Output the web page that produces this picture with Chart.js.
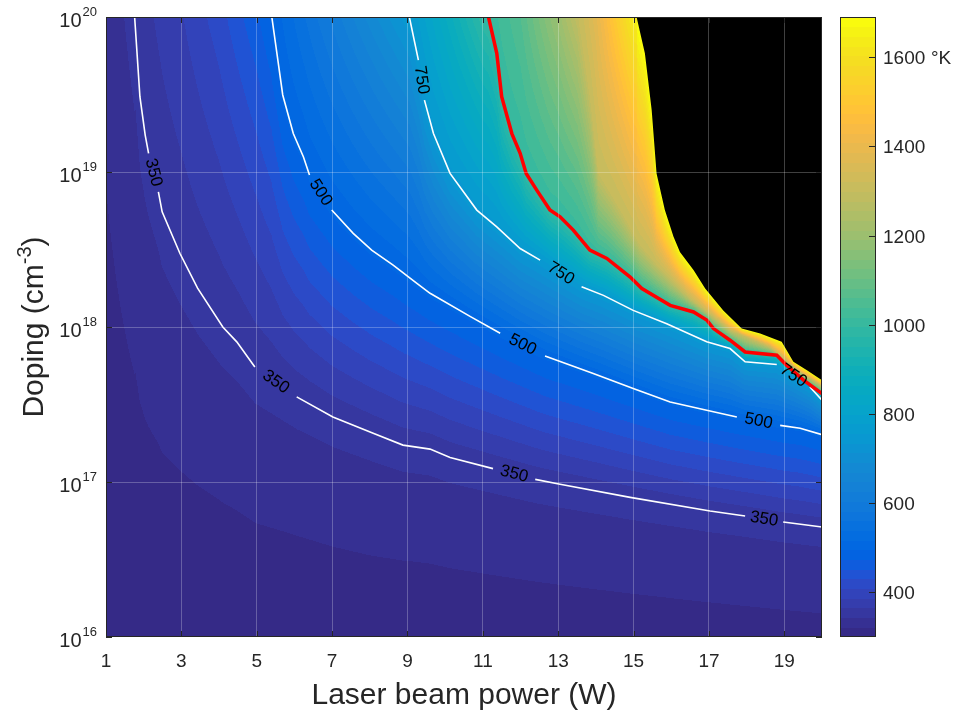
<!DOCTYPE html>
<html>
<head>
<meta charset="utf-8">
<script src="https://cdn.jsdelivr.net/npm/chart.js@4.4.1/dist/chart.umd.min.js"></script>
<style>
  html, body { margin: 0; padding: 0; background: #fff; }
</style>
</head>
<body>
<canvas id="heat" width="953" height="710"></canvas>
<script>
// axis ticks
var powerTicks = [1, 3, 5, 7, 9, 11, 13, 15, 17, 19];
var dopingTicks = [1e16, 1e17, 1e18, 1e19, 1e20];
var tempTicks = [400, 600, 800, 1000, 1200, 1400, 1600];
var tempMin = 300, tempMax = 1690;

// isotherms: [power W, doping cm-3], null = gap where the label sits
var iso350 = [
    [1.76, 1e20], [1.90, 3.06e19], [2.04, 1.73e19], [2.13, 1.32e19], null,
    [2.39, 7.45e18], [2.49, 5.53e18], [2.96, 2.99e18], [3.43, 1.78e18], [4.10, 1.00e18], [4.47, 8.02e17], [4.95, 5.52e17], null,
    [6.06, 3.54e17], [7.02, 2.63e17], [8.09, 2.06e17], [8.88, 1.73e17], [9.60, 1.63e17], [10.13, 1.44e17], [11.27, 1.22e17], null,
    [12.39, 1.04e17], [13.05, 9.66e16], [14.91, 7.96e16], [17.03, 6.50e16], [17.96, 6.03e16], null,
    [18.97, 5.52e16], [20, 5.13e16]
];
var iso500 = [
    [5.40, 1e20], [5.69, 3.14e19], [5.97, 1.77e19], [6.24, 1.25e19], [6.40, 9.55e18], null,
    [6.99, 5.68e18], [7.56, 4.02e18], [8.05, 3.13e18], [8.62, 2.51e18], [9.25, 1.91e18], [9.60, 1.65e18], [10.66, 1.17e18], [11.46, 9.12e17], null,
    [12.65, 6.49e17], [13.93, 5.01e17], [14.99, 4.01e17], [15.97, 3.28e17], [16.94, 2.90e17], [17.74, 2.63e17], null,
    [18.89, 2.32e17], [19.42, 2.22e17], [20, 2.02e17]
];
var iso750 = [
    [9.05, 1e20], [9.29, 5.27e19], null,
    [9.45, 2.91e19], [9.69, 1.77e19], [10.13, 9.79e18], [10.84, 5.68e18], [11.37, 4.43e18], [11.99, 3.21e18], [12.52, 2.70e18], null,
    [13.62, 1.82e18], [14.20, 1.60e18], [14.99, 1.28e18], [15.88, 1.05e18], [16.94, 8.02e17], [17.56, 7.26e17], [17.96, 5.96e17], [18.80, 5.73e17], null,
    [19.68, 4.10e17], [20, 3.37e17]
];
// red line
var iso1000 = [
    [11.15, 1e20], [11.37, 5.83e19], [11.50, 3.06e19], [11.77, 1.77e19], [11.99, 1.32e19], [12.15, 9.79e18],
    [12.43, 7.64e18], [12.78, 5.68e18], [13.05, 5.14e18], [13.40, 4.22e18], [13.84, 3.13e18], [14.29, 2.77e18],
    [14.91, 2.10e18], [15.22, 1.77e18], [15.97, 1.38e18], [16.59, 1.25e18], [16.94, 1.11e18], [17.12, 9.77e17],
    [17.56, 8.22e17], [17.96, 6.90e17], [18.80, 6.58e17], [19.06, 5.66e17], [19.51, 4.54e17], [20, 3.72e17]
];
// not drawn, only shapes the colours between the red line and the melt edge
var iso1300 = [
    [13.53, 1e20], [13.85, 2.91e19], [14.06, 9.84e18], [14.69, 5.43e18], [15.17, 3.37e18], [15.62, 2.51e18],
    [16.45, 1.56e18], [17.56, 9.53e17], [18.62, 7.41e17], [19.42, 5.11e17], [20, 4.15e17]
];
// edge of the black (molten) area
var meltEdge = [
    [15.08, 1e20], [15.30, 5.83e19], [15.48, 2.51e19], [15.61, 9.79e18], [15.83, 5.68e18], [16.06, 3.82e18],
    [16.23, 3.05e18], [16.59, 2.33e18], [16.90, 1.77e18], [17.38, 1.28e18], [17.87, 9.77e17], [18.36, 9.08e17],
    [18.93, 8.02e17], [19.24, 5.96e17], [19.60, 5.26e17], [20, 4.54e17]
];

// temperature along the bottom (1e16) and top (1e20) edges
var powerGrid = [1, 2, 3, 4, 5, 6, 7, 8, 9, 10, 11, 12, 13, 14, 15, 16, 17, 18, 19, 20];
var bottomTemp = [300, 300, 300, 300, 301, 301, 302, 303, 303, 304, 305, 306, 307, 308, 309, 310, 311, 312, 313, 314];
var topTemp = [330, 358, 385, 420, 470, 541, 610, 678, 747, 863, 989, 1060, 1200, 1380, 1640, 1700, 1700, 1700, 1700, 1700];

var levels = [[350, iso350], [500, iso500], [750, iso750], [1000, iso1000], [1300, iso1300], [1690, meltEdge]];

// parula, 64 steps
var parula = [
    [0.2081,0.1663,0.5292],[0.2116,0.1898,0.5777],[0.2123,0.2138,0.6270],[0.2081,0.2386,0.6771],
    [0.1959,0.2645,0.7279],[0.1707,0.2919,0.7792],[0.1253,0.3242,0.8303],[0.0591,0.3598,0.8683],
    [0.0117,0.3875,0.8820],[0.0060,0.4086,0.8828],[0.0165,0.4266,0.8786],[0.0329,0.4430,0.8720],
    [0.0498,0.4586,0.8641],[0.0629,0.4737,0.8554],[0.0723,0.4887,0.8467],[0.0779,0.5040,0.8384],
    [0.0793,0.5200,0.8312],[0.0749,0.5375,0.8263],[0.0641,0.5570,0.8240],[0.0488,0.5772,0.8228],
    [0.0343,0.5966,0.8199],[0.0265,0.6137,0.8135],[0.0239,0.6287,0.8038],[0.0231,0.6418,0.7913],
    [0.0228,0.6535,0.7768],[0.0267,0.6642,0.7607],[0.0384,0.6743,0.7436],[0.0590,0.6838,0.7254],
    [0.0843,0.6928,0.7062],[0.1133,0.7015,0.6859],[0.1453,0.7098,0.6646],[0.1801,0.7177,0.6424],
    [0.2178,0.7250,0.6193],[0.2586,0.7317,0.5954],[0.3022,0.7376,0.5712],[0.3482,0.7424,0.5473],
    [0.3953,0.7459,0.5244],[0.4420,0.7481,0.5033],[0.4871,0.7491,0.4840],[0.5300,0.7491,0.4661],
    [0.5709,0.7485,0.4494],[0.6099,0.7473,0.4337],[0.6473,0.7456,0.4188],[0.6834,0.7435,0.4044],
    [0.7184,0.7411,0.3905],[0.7525,0.7384,0.3768],[0.7858,0.7356,0.3633],[0.8185,0.7327,0.3498],
    [0.8507,0.7299,0.3360],[0.8824,0.7274,0.3217],[0.9139,0.7258,0.3063],[0.9450,0.7261,0.2886],
    [0.9739,0.7314,0.2666],[0.9938,0.7455,0.2403],[0.9990,0.7653,0.2164],[0.9955,0.7861,0.1967],
    [0.9880,0.8066,0.1794],[0.9789,0.8271,0.1633],[0.9697,0.8481,0.1475],[0.9626,0.8705,0.1309],
    [0.9589,0.8949,0.1132],[0.9598,0.9218,0.0948],[0.9661,0.9514,0.0755],[0.9763,0.9831,0.0538]
];

var fam = '"Liberation Sans", Arial, Helvetica, sans-serif';
var ink = '#262626';

function colourIndex(t) {
    var i = Math.floor((t - tempMin) / (tempMax - tempMin) * parula.length);
    return Math.max(0, Math.min(parula.length - 1, i));
}

// log10(doping) where an isotherm crosses the column at power p
function crossAt(line, p) {
    var pts = line.filter(Boolean);
    if (p < pts[0][0]) return null;
    for (var k = 1; k < pts.length; k++) {
        if (p <= pts[k][0]) {
            var f = (p - pts[k - 1][0]) / (pts[k][0] - pts[k - 1][0]);
            var a = Math.log10(pts[k - 1][1]), b = Math.log10(pts[k][1]);
            return a + f * (b - a);
        }
    }
    return Math.log10(pts[pts.length - 1][1]);
}

function edgeTemp(list, p) {
    for (var k = 1; k < powerGrid.length; k++) {
        if (p <= powerGrid[k]) {
            var f = (p - powerGrid[k - 1]) / (powerGrid[k] - powerGrid[k - 1]);
            return list[k - 1] + f * (list[k] - list[k - 1]);
        }
    }
    return list[list.length - 1];
}

function columnKnots(p) {
    var knots = [[16, edgeTemp(bottomTemp, p)]];
    levels.forEach(function (lv) {
        var e = crossAt(lv[1], p);
        if (e !== null) knots.push([e, lv[0]]);
    });
    knots.push([20, edgeTemp(topTemp, p)]);
    knots.sort(function (a, b) { return a[0] - b[0]; });
    return knots;
}

function tempAt(knots, e) {
    if (e <= knots[0][0]) return knots[0][1];
    for (var k = 1; k < knots.length; k++) {
        if (e <= knots[k][0]) {
            var d = knots[k][0] - knots[k - 1][0];
            var f = d > 0 ? (e - knots[k - 1][0]) / d : 1;
            return knots[k - 1][1] + f * (knots[k][1] - knots[k - 1][1]);
        }
    }
    return knots[knots.length - 1][1];
}

var heatField = {
    id: 'heatField',
    beforeDatasetsDraw: function (chart) {
        var a = chart.chartArea, xs = chart.scales.x, ys = chart.scales.y;
        var w = Math.round(a.right - a.left), h = Math.round(a.bottom - a.top);
        var off = document.createElement('canvas');
        off.width = w; off.height = h;
        var octx = off.getContext('2d');
        var img = octx.createImageData(w, h);
        var rowLog = [];
        for (var j = 0; j < h; j++) rowLog.push(Math.log10(ys.getValueForPixel(a.top + j + 0.5)));
        for (var i = 0; i < w; i++) {
            var knots = columnKnots(xs.getValueForPixel(a.left + i + 0.5));
            for (j = 0; j < h; j++) {
                var c = parula[colourIndex(tempAt(knots, rowLog[j]))];
                var o = (j * w + i) * 4;
                img.data[o] = c[0] * 255;
                img.data[o + 1] = c[1] * 255;
                img.data[o + 2] = c[2] * 255;
                img.data[o + 3] = 255;
            }
        }
        octx.putImageData(img, 0, 0);
        chart.ctx.drawImage(off, a.left, a.top);
    }
};

var decorations = {
    id: 'decorations',
    afterDraw: function (chart) {
        var ctx = chart.ctx, a = chart.chartArea;
        var xs = chart.scales.x, ys = chart.scales.y, ts = chart.scales.temp;
        ctx.save();

        // contour labels sit in the gaps of the lines
        ctx.fillStyle = '#000';
        ctx.font = '17px ' + fam;
        ctx.textAlign = 'center';
        ctx.textBaseline = 'middle';
        [[350, iso350], [500, iso500], [750, iso750]].forEach(function (lv) {
            var line = lv[1];
            for (var k = 1; k < line.length - 1; k++) {
                if (line[k] !== null) continue;
                var x0 = xs.getPixelForValue(line[k - 1][0]), y0 = ys.getPixelForValue(line[k - 1][1]);
                var x1 = xs.getPixelForValue(line[k + 1][0]), y1 = ys.getPixelForValue(line[k + 1][1]);
                var ang = Math.atan2(y1 - y0, x1 - x0);
                if (ang > Math.PI / 2) ang -= Math.PI;
                if (ang < -Math.PI / 2) ang += Math.PI;
                ctx.save();
                ctx.translate((x0 + x1) / 2, (y0 + y1) / 2);
                ctx.rotate(ang);
                ctx.fillText(String(lv[0]), 0, 0);
                ctx.restore();
            }
        });

        // axes box and inward ticks
        ctx.strokeStyle = ink;
        ctx.lineWidth = 1;
        ctx.strokeRect(a.left + 0.5, a.top + 0.5, a.right - a.left - 1, a.bottom - a.top - 1);
        ctx.beginPath();
        powerTicks.forEach(function (v) {
            var px = Math.round(xs.getPixelForValue(v)) + 0.5;
            ctx.moveTo(px, a.bottom); ctx.lineTo(px, a.bottom - 6);
            ctx.moveTo(px, a.top); ctx.lineTo(px, a.top + 6);
        });
        dopingTicks.forEach(function (v) {
            var py = Math.round(ys.getPixelForValue(v)) + 0.5;
            ctx.moveTo(a.left, py); ctx.lineTo(a.left + 6, py);
            ctx.moveTo(a.right, py); ctx.lineTo(a.right - 6, py);
        });
        ctx.stroke();

        // tick labels
        ctx.fillStyle = ink;
        ctx.textBaseline = 'alphabetic';
        ctx.textAlign = 'center';
        ctx.font = '19px ' + fam;
        powerTicks.forEach(function (v) {
            ctx.fillText(String(v), xs.getPixelForValue(v), a.bottom + 30);
        });
        ctx.textAlign = 'right';
        dopingTicks.forEach(function (v) {
            var py = ys.getPixelForValue(v);
            var ex = String(Math.round(Math.log10(v)));
            ctx.font = '13px ' + fam;
            var sw = ctx.measureText(ex).width;
            ctx.fillText(ex, a.left - 9, py - 1);
            ctx.font = '20px ' + fam;
            ctx.fillText('10', a.left - 10 - sw, py + 10);
        });

        // axis titles
        ctx.textAlign = 'center';
        ctx.font = '30px ' + fam;
        ctx.fillText('Laser beam power (W)', (a.left + a.right) / 2, 704);
        ctx.save();
        ctx.translate(43, (a.top + a.bottom) / 2);
        ctx.rotate(-Math.PI / 2);
        ctx.textAlign = 'left';
        var main = 'Doping (cm', sup = '-3', close = ')';
        ctx.font = '30px ' + fam;
        var wMain = ctx.measureText(main).width, wClose = ctx.measureText(close).width;
        ctx.font = '20px ' + fam;
        var wSup = ctx.measureText(sup).width;
        var x0 = -(wMain + wSup + wClose) / 2;
        ctx.font = '30px ' + fam;
        ctx.fillText(main, x0, 0);
        ctx.fillText(close, x0 + wMain + wSup, 0);
        ctx.font = '20px ' + fam;
        ctx.fillText(sup, x0 + wMain, -12);
        ctx.restore();

        // colour bar on the temp scale
        var bl = 840, br = 876;
        for (var k = 0; k < parula.length; k++) {
            var t0 = tempMin + k * (tempMax - tempMin) / parula.length;
            var t1 = tempMin + (k + 1) * (tempMax - tempMin) / parula.length;
            var c = parula[k];
            ctx.fillStyle = 'rgb(' + Math.round(c[0] * 255) + ',' + Math.round(c[1] * 255) + ',' + Math.round(c[2] * 255) + ')';
            var yTop = ts.getPixelForValue(t1), yBot = ts.getPixelForValue(t0);
            ctx.fillRect(bl, Math.floor(yTop), br - bl, Math.ceil(yBot) - Math.floor(yTop));
        }
        ctx.strokeStyle = ink;
        ctx.strokeRect(bl + 0.5, ts.getPixelForValue(tempMax) + 0.5, br - bl - 1, ts.getPixelForValue(tempMin) - ts.getPixelForValue(tempMax) - 1);
        ctx.beginPath();
        tempTicks.forEach(function (v) {
            var py = Math.round(ts.getPixelForValue(v)) + 0.5;
            ctx.moveTo(br, py); ctx.lineTo(br - 7, py);
        });
        ctx.stroke();
        ctx.fillStyle = ink;
        ctx.textAlign = 'left';
        ctx.font = '19px ' + fam;
        tempTicks.forEach(function (v) {
            ctx.fillText(String(v), 883, ts.getPixelForValue(v) + 7);
        });
        ctx.fillText('\u00b0K', 931, ts.getPixelForValue(1600) + 7);

        ctx.restore();
    }
};

function toPoints(line) {
    return line.map(function (p) { return p ? { x: p[0], y: p[1] } : { x: null, y: null }; });
}

function contourSet(line, colour, width) {
    return {
        data: toPoints(line),
        showLine: true,
        borderColor: colour,
        borderWidth: width,
        pointRadius: 0,
        fill: false,
        spanGaps: false
    };
}

var gridStyle = { color: 'rgba(255,255,255,0.25)', lineWidth: 1, drawTicks: false, z: 1 };

new Chart(document.getElementById('heat').getContext('2d'), {
    type: 'scatter',
    data: {
        datasets: [
            contourSet(iso1000, '#ff0000', 3.5),
            contourSet(iso750, '#ffffff', 1.6),
            contourSet(iso500, '#ffffff', 1.6),
            contourSet(iso350, '#ffffff', 1.6),
            {
                data: toPoints(meltEdge),
                showLine: true,
                borderWidth: 0,
                borderColor: 'rgba(0,0,0,0)',
                backgroundColor: '#000000',
                pointRadius: 0,
                fill: 'end'
            }
        ]
    },
    options: {
        responsive: false,
        animation: false,
        layout: { padding: { top: 17, left: 0, right: 0, bottom: 0 } },
        plugins: { legend: { display: false }, tooltip: { enabled: false } },
        scales: {
            x: {
                type: 'linear', min: 1, max: 20,
                afterBuildTicks: function (s) { s.ticks = powerTicks.map(function (v) { return { value: v }; }); },
                afterFit: function (s) { s.height = 73; },
                ticks: { display: false },
                grid: gridStyle,
                border: { display: false }
            },
            y: {
                type: 'logarithmic', min: 1e16, max: 1e20,
                afterBuildTicks: function (s) { s.ticks = dopingTicks.map(function (v) { return { value: v }; }); },
                afterFit: function (s) { s.width = 106; },
                ticks: { display: false },
                grid: gridStyle,
                border: { display: false }
            },
            temp: {
                type: 'linear', position: 'right', min: tempMin, max: tempMax,
                afterFit: function (s) { s.width = 131; },
                ticks: { display: false },
                grid: { display: false, drawTicks: false },
                border: { display: false }
            }
        }
    },
    plugins: [heatField, decorations]
});
</script>
</body>
</html>
